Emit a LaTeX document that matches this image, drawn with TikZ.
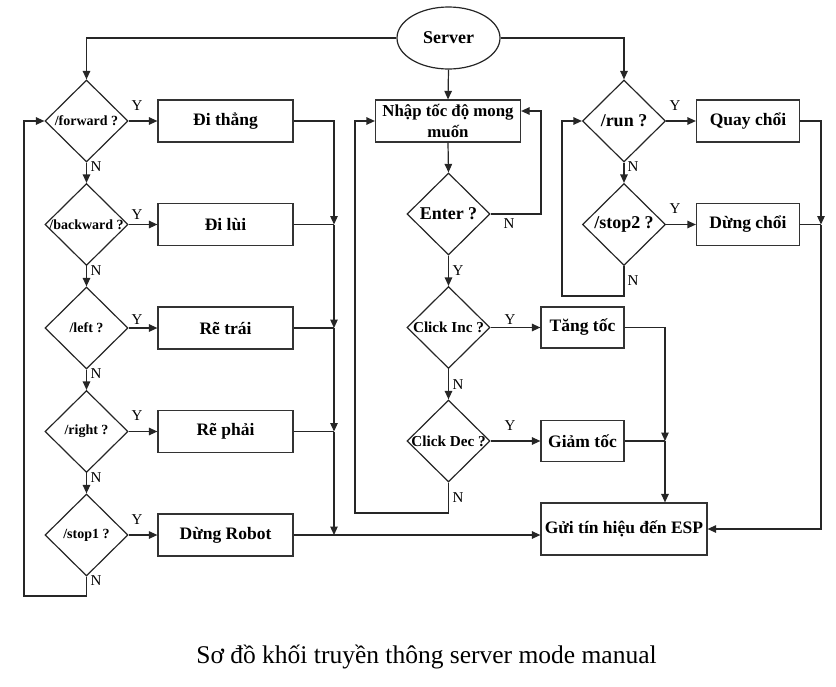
\documentclass[tikz,border=0pt]{standalone}
\usepackage{fontspec}
\setmainfont{Liberation Serif}
\usetikzlibrary{shapes.geometric,arrows.meta}
\begin{document}
\begin{tikzpicture}[x=1pt,y=-1pt,
  line width=1.2pt,
  ln/.style={draw=black!85},
  arr/.style={ln,-{Triangle[length=8.5pt,width=7.5pt]}},
  box/.style={rectangle,draw=black!80,line width=1.2pt,inner sep=0pt,minimum height=42pt,font=\fontsize{17.5}{20}\selectfont\bfseries},
  dec/.style={diamond,draw=black!85,line width=1.2pt,inner sep=0pt,minimum width=83pt,minimum height=82pt},
  decS/.style={dec,font=\fontsize{14}{16}\selectfont\bfseries},
  decM/.style={dec,font=\fontsize{15.2}{17}\selectfont\bfseries},
  decL/.style={dec,font=\fontsize{18}{20}\selectfont\bfseries},
  yn/.style={font=\fontsize{15}{17}\selectfont,inner sep=0pt}]
\useasboundingbox (0,0) rectangle (836,686);

% nodes
\node[ellipse,draw=black!85,line width=1.2pt,minimum width=103pt,minimum height=62pt,inner sep=0pt,font=\fontsize{18}{20}\selectfont\bfseries] (server) at (448.5,38) {Server};

\node[decS] (fwd) at (86.5,121) {\makebox[0pt]{/forward ?}};
\node[decS] (bwd) at (86.5,224.5) {\makebox[0pt]{/backward ?}};
\node[decS] (lft) at (86.5,328) {\makebox[0pt]{/left ?}};
\node[decS] (rgt) at (86.5,431.5) {\makebox[0pt]{/right ?}};
\node[decS] (stp) at (86.5,535) {\makebox[0pt]{/stop1 ?}};

\node[box,minimum width=135pt] (dthang) at (225.5,121) {Đi thẳng};
\node[box,minimum width=135pt] (dlui) at (225.5,224.5) {Đi lùi};
\node[box,minimum width=135pt] (rtrai) at (225.5,328) {Rẽ trái};
\node[box,minimum width=135pt] (rphai) at (225.5,431.5) {Rẽ phải};
\node[box,minimum width=135pt] (drobot) at (225.5,535) {Dừng Robot};

\node[box,minimum width=145pt,align=center,font=\fontsize{16.8}{21}\selectfont\bfseries] (nhap) at (448,121) {Nhập tốc độ mong\\muốn};
\node[decL] (enter) at (448.5,214) {\makebox[0pt]{Enter ?}};
\node[decM] (cinc) at (448.5,327.5) {\makebox[0pt]{Click Inc ?}};
\node[decM] (cdec) at (448.5,441) {\makebox[0pt]{Click Dec ?}};
\node[box,minimum width=83pt,minimum height=41pt] (tang) at (582.5,327.5) {Tăng tốc};
\node[box,minimum width=83pt,minimum height=41pt] (giam) at (582.5,441) {Giảm tốc};
\node[box,minimum width=166pt,minimum height=52pt] (gui) at (624,529) {Gửi tín hiệu đến ESP};

\node[decL] (run) at (624,121) {\makebox[0pt]{/run ?}};
\node[decL] (stop2) at (624,224.5) {\makebox[0pt]{/stop2 ?}};
\node[box,minimum width=103pt] (quay) at (748,121) {Quay chổi};
\node[box,minimum width=103pt] (dchoi) at (748,224.5) {Dừng chổi};

\node[font=\fontsize{25.5}{28}\selectfont,inner sep=0pt] (caption) at (426.5,657) {Sơ đồ khối truyền thông server mode manual};

% helper coordinates
\coordinate (colL) at (334,0);
\coordinate (colM) at (665,0);
\coordinate (colR) at (821,0);
\coordinate (loopL) at (24,596);
\coordinate (enR) at (541,111);
\coordinate (cdL) at (355,513);
\coordinate (sL) at (562,296);

% server connectors
\draw[arr] (server.west) -| (fwd.north);
\draw[arr] (server.south) -- (nhap.north);
\draw[arr] (server.east) -| (run.north);

% left column
\draw[arr] (fwd.east) -- (dthang.west);
\draw[arr] (bwd.east) -- (dlui.west);
\draw[arr] (lft.east) -- (rtrai.west);
\draw[arr] (rgt.east) -- (rphai.west);
\draw[arr] (stp.east) -- (drobot.west);
\draw[arr] (fwd.south) -- (bwd.north);
\draw[arr] (bwd.south) -- (lft.north);
\draw[arr] (lft.south) -- (rgt.north);
\draw[arr] (rgt.south) -- (stp.north);
\draw[arr] (stp.south) |- (loopL) |- (fwd.west);

\draw[arr] (dthang.east) -| (colL |- dlui.east);
\draw[ln] (dlui.east) -- (colL |- dlui.east);
\draw[arr] (colL |- dlui.east) -- (colL |- rtrai.east);
\draw[ln] (rtrai.east) -- (colL |- rtrai.east);
\draw[arr] (colL |- rtrai.east) -- (colL |- rphai.east);
\draw[ln] (rphai.east) -- (colL |- rphai.east);
\draw[arr] (colL |- rphai.east) -- (colL |- drobot.east);
\draw[arr] (drobot.east) -- (gui.west |- drobot.east);

% middle column
\draw[arr] (nhap.south) -- (enter.north);
\draw[arr] (enter.east) -| (enR) -- (nhap.east |- enR);
\draw[arr] (enter.south) -- (cinc.north);
\draw[arr] (cinc.east) -- (tang.west);
\draw[arr] (cinc.south) -- (cdec.north);
\draw[arr] (cdec.east) -- (giam.west);
\draw[arr] (cdec.south) |- (cdL) |- (nhap.west);
\draw[arr] (tang.east) -| (colM |- giam.east);
\draw[ln] (giam.east) -- (colM |- giam.east);
\draw[arr] (colM |- giam.east) -- (colM |- gui.north);

% right column
\draw[arr] (run.east) -- (quay.west);
\draw[arr] (run.south) -- (stop2.north);
\draw[arr] (stop2.east) -- (dchoi.west);
\draw[arr] (stop2.south) |- (sL) |- (run.west);
\draw[arr] (quay.east) -| (colR |- dchoi.east);
\draw[ln] (dchoi.east) -- (colR |- dchoi.east);
\draw[arr] (colR |- dchoi.east) |- (gui.east);

% Y / N labels
\node[yn] (y1) at (137,106) {Y};
\node[yn] (y2) at (137,215) {Y};
\node[yn] (y3) at (137,320) {Y};
\node[yn] (y4) at (137,416) {Y};
\node[yn] (y5) at (137,520) {Y};
\node[yn] (n1) at (96,167) {N};
\node[yn] (n2) at (96,271) {N};
\node[yn] (n3) at (96,374) {N};
\node[yn] (n4) at (96,478) {N};
\node[yn] (n5) at (96,581) {N};
\node[yn] (n6) at (509,224) {N};
\node[yn] (y6) at (458,271) {Y};
\node[yn] (y7) at (510,320) {Y};
\node[yn] (n7) at (458,385) {N};
\node[yn] (y8) at (510,426) {Y};
\node[yn] (n8) at (458,498) {N};
\node[yn] (y9) at (675,106) {Y};
\node[yn] (n9) at (633,167) {N};
\node[yn] (y10) at (675,209) {Y};
\node[yn] (n10) at (633,281) {N};
\end{tikzpicture}
\end{document}
